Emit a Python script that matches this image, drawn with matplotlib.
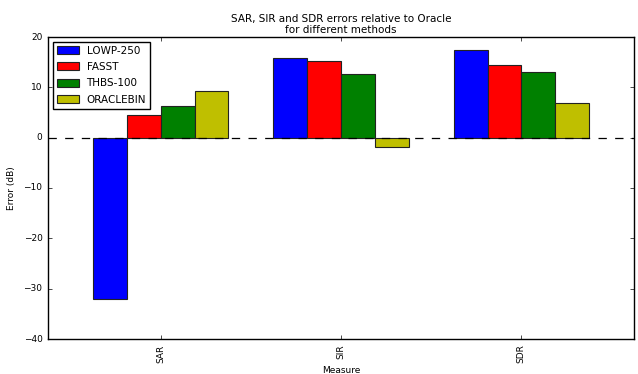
import numpy as np
import matplotlib
matplotlib.use('Agg')
import matplotlib.pyplot as plt

plt.style.use('classic')

measures = ['SAR', 'SIR', 'SDR']
methods = ['LOWP-250', 'FASST', 'THBS-100', 'ORACLEBIN']
colors = ['b', 'r', 'g', 'y']

lowp = [-32.1, 15.9, 17.4]
fasst = [4.5, 15.2, 14.5]
thbs = [6.2, 12.7, 13.1]
oracle = [9.3, -1.9, 6.8]

fig = plt.figure(figsize=(6.38, 3.74), dpi=100)
ax = fig.add_axes([48 / 638, 35 / 374, 586 / 638, 302 / 374])

x = np.arange(len(measures))
width = 0.1875
for i, (vals, name, c) in enumerate(zip([lowp, fasst, thbs, oracle], methods, colors)):
    ax.bar(x - 0.375 + i * width, vals, width, color=c, label=name, align='edge',
           edgecolor='#222222', linewidth=0.8)

ax.axhline(0, color='k', linestyle='--', linewidth=0.9)
ax.set_xlim(-0.625, 2.625)
ax.set_ylim(-40, 20)
ax.set_xticks(x)
ax.set_xticklabels(measures, rotation=90, fontsize=6.5)
ax.tick_params(axis='y', labelsize=6.5)
ax.tick_params(length=3)
ax.set_xlabel('Measure', fontsize=6.5, labelpad=2)
ax.set_ylabel('Error (dB)', fontsize=6.5)
ax.set_title('SAR, SIR and SDR errors relative to Oracle\nfor different methods',
             fontsize=7.5, pad=3, linespacing=1.05)
ax.legend(loc='upper left', fontsize=7.5, handlelength=2.1, handleheight=0.8,
          labelspacing=0.6, borderpad=0.4, handletextpad=0.75, borderaxespad=0.45)

fig.savefig('out.png', dpi=100)
